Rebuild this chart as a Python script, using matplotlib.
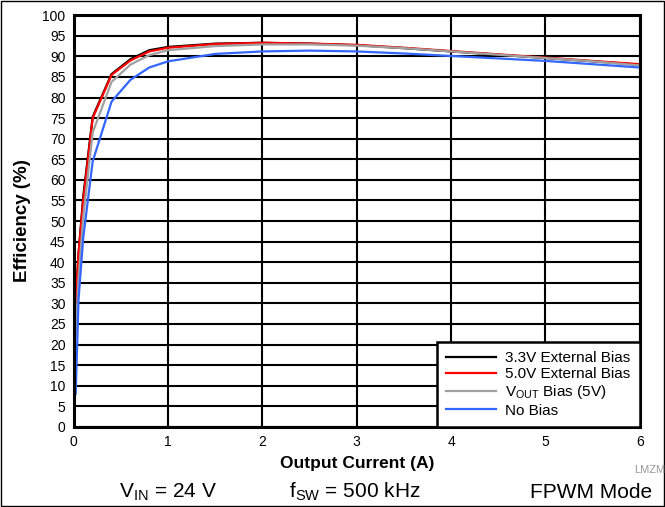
import matplotlib.pyplot as plt
from matplotlib.patches import Rectangle

plt.rcParams['font.family'] = ['Liberation Sans', 'DejaVu Sans']

# Output current (A)
current = [0.02, 0.05, 0.1, 0.2, 0.4, 0.6, 0.8, 1.0, 1.5, 2.0, 2.5, 3.0, 3.5, 4.0, 4.5, 5.0, 5.5, 6.0]

# Efficiency (%) for each bias option
eff_33v = [30, 42, 56, 75.3, 85.7, 89.3, 91.5, 92.3, 93.1, 93.3, 93.1, 92.7, 92.0, 91.2, 90.4, 89.6, 88.8, 88.0]
eff_50v = [30, 42, 55, 75.0, 85.5, 89.0, 91.2, 92.1, 93.0, 93.3, 93.1, 92.8, 92.1, 91.3, 90.5, 89.7, 88.9, 88.1]
eff_vout = [22, 36, 51, 71.5, 83.8, 88.0, 90.3, 91.5, 92.5, 92.9, 92.9, 92.6, 92.0, 91.2, 90.4, 89.6, 88.8, 87.8]
eff_nobias = [8, 31, 46, 64.5, 79.0, 84.3, 87.3, 88.8, 90.6, 91.2, 91.4, 91.2, 90.7, 90.1, 89.5, 88.9, 88.1, 87.3]

labels = ['3.3V External Bias', '5.0V External Bias', r'V$_{\mathregular{OUT}}$ Bias (5V)', 'No Bias']
colors = ['black', '#ff0000', '#a0a0a0', '#3366ff']

fig = plt.figure(figsize=(6.65, 5.07), dpi=100)
ax = fig.add_axes([0.111, 0.158, 0.851, 0.812])

for y, lab, c in zip([eff_33v, eff_50v, eff_vout, eff_nobias], labels, colors):
    ax.plot(current, y, color=c, lw=1.6, label=lab)

ax.set_xlim(0, 6)
ax.set_ylim(0, 100)
ax.set_xticks(range(0, 7))
ax.set_yticks(range(0, 101, 5))
ax.tick_params(length=0, labelsize=10, pad=6)
ax.grid(True, color='black', lw=1.5)
ax.set_axisbelow(True)
for s in ax.spines.values():
    s.set_linewidth(2.2)

ax.set_xlabel('Output Current (A)', fontsize=12.5, fontweight='bold', labelpad=5)
ax.set_ylabel('Efficiency (%)', fontsize=13.5, fontweight='bold', labelpad=8)

leg = ax.legend(loc='lower right', fontsize=11, frameon=True, fancybox=False,
                handlelength=3.3, handletextpad=0.6, borderaxespad=0, labelspacing=0.15,
                borderpad=0.6, framealpha=1)
leg.get_frame().set_edgecolor('black')
leg.get_frame().set_linewidth(1.8)

# bottom condition notes
fig.text(168 / 665, 1 - 492 / 507, r'V$_{\mathregular{IN}}$ = 24 V', fontsize=15, ha='center', va='center')
fig.text(355 / 665, 1 - 492 / 507, r'f$_{\mathregular{SW}}$ = 500 kHz', fontsize=15, ha='center', va='center')
fig.text(591 / 665, 1 - 492 / 507, 'FPWM Mode', fontsize=15, ha='center', va='center')
fig.text(634 / 665, 1 - 470 / 507, 'LMZM', fontsize=8, color='#999999', ha='left', va='center')

fig.patches.append(Rectangle((0.001, 0.001), 0.998, 0.998, transform=fig.transFigure,
                             fill=False, edgecolor='black', lw=1))

fig.savefig('out.png', dpi=100)
